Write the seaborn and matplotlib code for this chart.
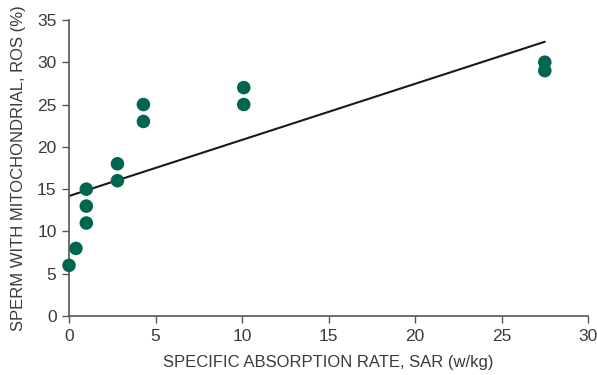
import matplotlib
matplotlib.use("Agg")
import matplotlib.pyplot as plt
import seaborn as sns
import pandas as pd

sar = [0, 0.4, 1, 1, 1, 2.8, 2.8, 4.3, 4.3, 10.1, 10.1, 27.5, 27.5]
ros = [6, 8, 15, 13, 11, 18, 16, 25, 23, 27, 25, 30, 29]
x_ticks = [0, 5, 10, 15, 20, 25, 30]
y_ticks = [0, 5, 10, 15, 20, 25, 30, 35]

df = pd.DataFrame({"sar": sar, "ros": ros})

sns.set_style("ticks")
plt.rcParams["font.family"] = ["Liberation Sans", "DejaVu Sans"]

fig = plt.figure(figsize=(5.97, 3.75), dpi=100)
ax = fig.add_axes([0.1156, 0.157, 0.8694, 0.79])

sns.regplot(data=df, x="sar", y="ros", ax=ax, ci=None, truncate=True,
            scatter_kws=dict(s=95, color="#006650", edgecolor="none", alpha=1, zorder=3),
            line_kws=dict(color="#1a1a1a", lw=1.5, zorder=2))

ax.set_xlim(0, 30)
ax.set_ylim(0, 35)
ax.set_xticks(x_ticks)
ax.set_yticks(y_ticks)
ax.set_xlabel("SPECIFIC ABSORPTION RATE, SAR (w/kg)", fontsize=12, color="#3a3a3a", labelpad=8)
ax.set_ylabel("SPERM WITH MITOCHONDRIAL, ROS (%)", fontsize=12, color="#3a3a3a", labelpad=8)
ax.tick_params(axis="both", bottom=True, left=True, direction="out", length=5, width=1,
               color="#555555", labelsize=12.5, labelcolor="#3a3a3a", pad=4)
for s in ["top", "right"]:
    ax.spines[s].set_visible(False)
for s in ["left", "bottom"]:
    ax.spines[s].set_color("#555555")
    ax.spines[s].set_linewidth(1.2)
for c in ax.collections:
    c.set_clip_on(False)

fig.savefig("out.png", dpi=100)
